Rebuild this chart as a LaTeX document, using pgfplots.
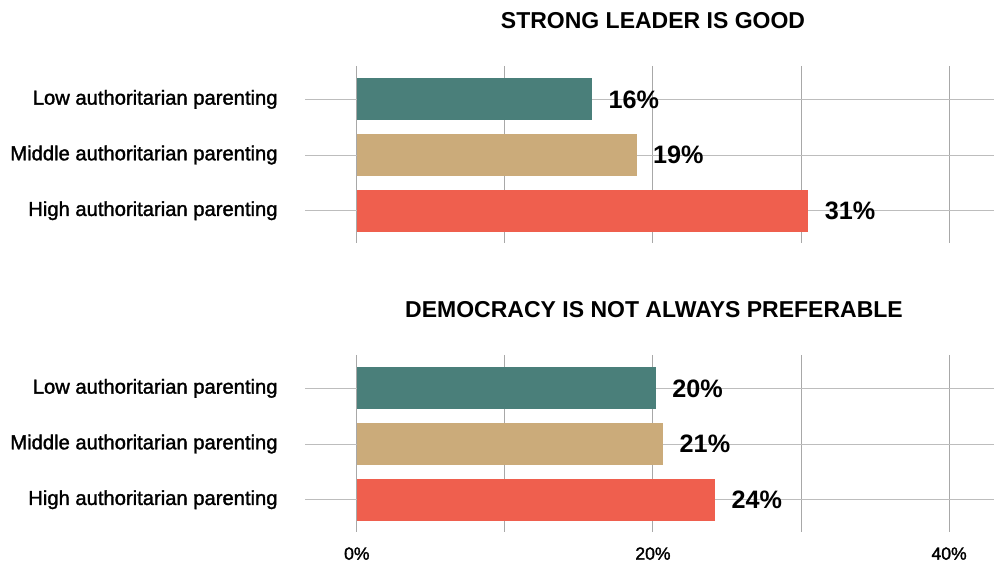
\documentclass[border=0pt]{standalone}
\usepackage{pgfplots}
\pgfplotsset{compat=1.18}
\usepackage{fontspec}
\setmainfont{Liberation Sans}
\newfontfamily\medfont[FakeBold=1.6]{Liberation Sans}
\definecolor{cteal}{HTML}{4A7F7A}
\definecolor{ctan}{HTML}{CBAB7A}
\definecolor{cred}{HTML}{EF5F4E}
\definecolor{gridv}{HTML}{A8A8A8}
\definecolor{gridh}{HTML}{BDBDBD}
\pgfplotsset{
  panel/.style={
    scale only axis, width=345pt, height=88.5pt,
    xmin=-3.5, xmax=43.1, ymin=-0.6, ymax=2.58, y dir=reverse,
    xtick={0,10,20,30,40}, ytick={0,1,2},
    yticklabels={Low authoritarian parenting, Middle authoritarian parenting, High authoritarian parenting},
    xmajorgrids, ymajorgrids,
    x grid style={color=gridv, line width=0.5pt},
    y grid style={color=gridh, line width=0.5pt},
    axis line style={draw=none},
    major tick length=0pt,
    yticklabel style={font=\medfont\fontsize{10.1}{12}\selectfont, inner sep=0pt, anchor=east, xshift=-13.5pt},
    xticklabel style={font=\medfont\fontsize{8.8}{10}\selectfont, inner sep=0pt, anchor=north, yshift=-7.5pt},
    xbar, bar width=21pt,
  },
  val/.style={draw=none, fill=#1, bar shift=0pt, nodes near coords, point meta=explicit symbolic,
    nodes near coords style={anchor=west, inner sep=0pt, xshift=8pt, font=\bfseries\fontsize{12.6}{15}\selectfont, text=black}},
}
\begin{document}
\begin{tikzpicture}
\path[use as bounding box] (0,0) rectangle (497pt,282.5pt);
\begin{axis}[panel, at={(152.5pt,161pt)}, anchor=south west, xticklabels={}]
\addplot[val=cteal] coordinates {(15.9,0) [16\%]};
\addplot[val=ctan] coordinates {(18.9,1) [19\%]};
\addplot[val=cred] coordinates {(30.5,2) [31\%]};
\end{axis}
\begin{axis}[panel, at={(152.5pt,16.5pt)}, anchor=south west, xticklabels={0\%,,20\%,,40\%}]
\addplot[val=cteal] coordinates {(20.2,0) [20\%]};
\addplot[val=ctan] coordinates {(20.7,1) [21\%]};
\addplot[val=cred] coordinates {(24.2,2) [24\%]};
\end{axis}
\node[font=\bfseries\fontsize{11.5}{14}\selectfont] at (326.5pt,272pt) {STRONG LEADER IS GOOD};
\node[font=\bfseries\fontsize{11.5}{14}\selectfont] at (327pt,127.5pt) {DEMOCRACY IS NOT ALWAYS PREFERABLE};
\end{tikzpicture}
\end{document}
